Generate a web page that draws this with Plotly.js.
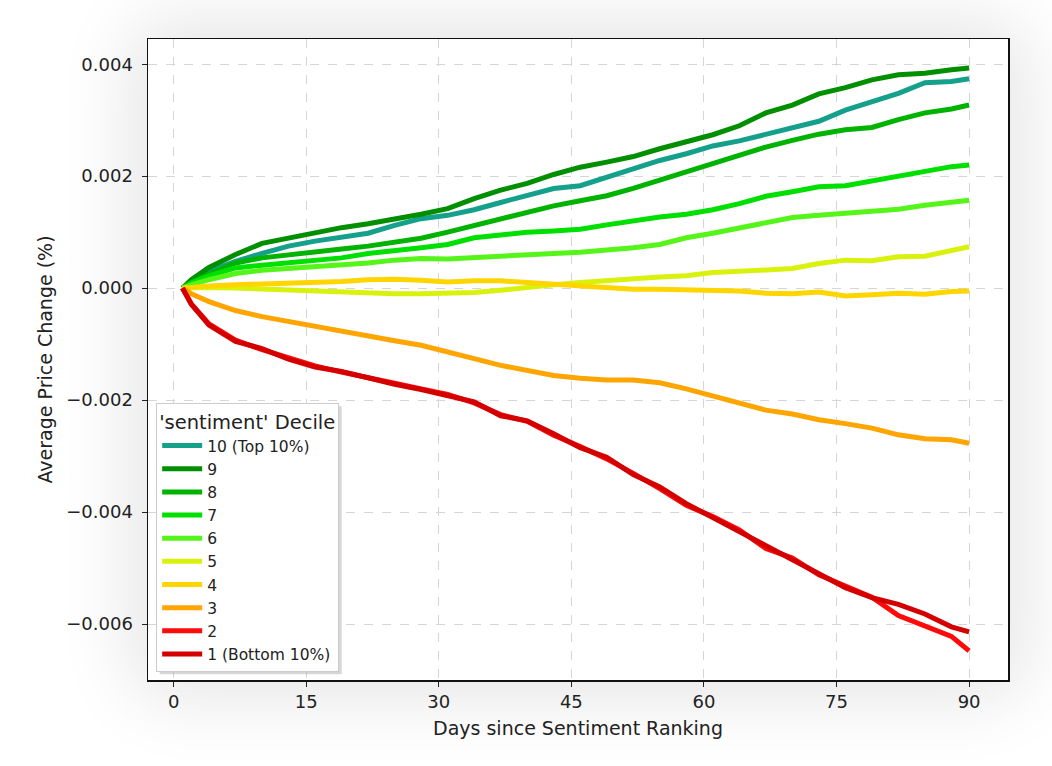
<!DOCTYPE html>
<html>
<head>
<meta charset="utf-8">
<script src="https://cdn.plot.ly/plotly-3.0.1.min.js"></script>
<style>
  html, body { margin: 0; padding: 0; background: #ffffff; }
  #wrap { position: relative; width: 1052px; height: 766px; overflow: hidden; background: #ffffff; }
  #shadow { position: absolute; left: 148px; top: 39px; width: 860px; height: 641px;
            background: #ffffff; box-shadow: 0 0 70px 22px rgba(0,0,0,0.095); border-radius: 24px; }
  #chart { position: absolute; left: 0; top: 0; width: 1052px; height: 766px; }
</style>
</head>
<body>
<div id="wrap">
  <div id="shadow"></div>
  <div id="chart"></div>
</div>
<script>
const days = [1,2,4,7,10,13,16,19,22,25,28,31,34,37,40,43,46,49,52,55,58,61,64,67,70,73,76,79,82,85,88,90];

const s10 = [0,0.00012,0.0003,0.00048,0.00062,0.00075,0.00084,0.0009,0.00098,0.00112,0.00124,0.0013,0.0014,0.00153,0.00166,0.00178,0.00183,0.00198,0.00214,0.00228,0.0024,0.00254,0.00263,0.00275,0.00287,0.00298,0.00318,0.00334,0.00348,0.00367,0.00369,0.00374];
const s9 = [0,0.00015,0.00037,0.0006,0.0008,0.0009,0.001,0.00108,0.00115,0.00123,0.00132,0.00142,0.0016,0.00175,0.00187,0.00203,0.00216,0.00225,0.00235,0.00249,0.00262,0.00274,0.0029,0.00313,0.00327,0.00347,0.00358,0.00372,0.00381,0.00384,0.0039,0.00393];
const s8 = [0,0.0001,0.00025,0.00045,0.00054,0.0006,0.00064,0.0007,0.00075,0.00083,0.00089,0.001,0.00112,0.00125,0.00137,0.00147,0.00156,0.00165,0.00178,0.00193,0.00208,0.00222,0.00238,0.00252,0.00264,0.00275,0.00283,0.00287,0.00301,0.00313,0.0032,0.00327];
const s7 = [0,0.00009,0.00022,0.00036,0.00041,0.00045,0.00048,0.00054,0.00062,0.00066,0.00072,0.00078,0.0009,0.00095,0.001,0.00102,0.00105,0.00113,0.00121,0.00127,0.00132,0.0014,0.00151,0.00164,0.00172,0.00181,0.00183,0.00192,0.00201,0.0021,0.00217,0.0022];
const s6 = [0,0.00006,0.00015,0.00026,0.00032,0.00035,0.00037,0.00041,0.00045,0.0005,0.00053,0.00052,0.00055,0.00058,0.00061,0.00062,0.00064,0.00067,0.00072,0.00078,0.0009,0.00098,0.00108,0.00118,0.00126,0.0013,0.00134,0.00137,0.00141,0.00148,0.00153,0.00157];
const s5 = [0,0.00001,0.00001,0,-0.00002,-0.00004,-0.00005,-0.00007,-0.00009,-0.0001,-0.0001,-0.0001,-0.00008,-0.00004,0.00002,0.00006,0.0001,0.00014,0.00018,0.0002,0.00022,0.00028,0.0003,0.00033,0.00035,0.00044,0.0005,0.00049,0.00056,0.00057,0.00066,0.00074];
const s4 = [0,0.00002,0.00004,0.00006,0.00007,0.00009,0.0001,0.00012,0.00015,0.00016,0.00014,0.00011,0.00013,0.00013,0.0001,0.00007,0.00005,0.00002,-0.00002,-0.00002,-0.00003,-0.00004,-0.00005,-0.00009,-0.0001,-0.00007,-0.00014,-0.00012,-0.00009,-0.00011,-0.00006,-0.00005];
const s3 = [0,-0.0001,-0.00024,-0.0004,-0.00051,-0.0006,-0.00068,-0.00077,-0.00087,-0.00094,-0.00102,-0.00113,-0.00126,-0.00138,-0.00148,-0.00156,-0.00161,-0.00164,-0.00164,-0.00169,-0.0018,-0.00192,-0.00205,-0.00218,-0.00225,-0.00235,-0.00242,-0.0025,-0.00262,-0.00269,-0.00271,-0.00277];
const s2 = [0,-0.00028,-0.00064,-0.00093,-0.0011,-0.00125,-0.00139,-0.0015,-0.00161,-0.0017,-0.0018,-0.0019,-0.00205,-0.00226,-0.00238,-0.00263,-0.00283,-0.00305,-0.00331,-0.00358,-0.00388,-0.00408,-0.00432,-0.00465,-0.00482,-0.00512,-0.00532,-0.00552,-0.00585,-0.00604,-0.00622,-0.00648];
const s1 = [0,-0.00029,-0.00066,-0.00095,-0.00108,-0.00127,-0.00141,-0.00149,-0.0016,-0.00172,-0.00181,-0.00191,-0.00203,-0.00228,-0.00237,-0.0026,-0.00285,-0.00302,-0.00333,-0.00355,-0.00385,-0.0041,-0.00435,-0.00462,-0.00485,-0.0051,-0.00535,-0.00553,-0.00565,-0.00582,-0.00605,-0.00614];

const seriesNames = ['10 (Top 10%)','9','8','7','6','5','4','3','2','1 (Bottom 10%)'];
const seriesValues = [s10,s9,s8,s7,s6,s5,s4,s3,s2,s1];
const seriesColors = ['#14a08a','#008f00','#00b300','#00e000','#55f51a','#d9f20d','#ffd500','#ffa500','#ff0a0a','#d40000'];

const xTicks = [0,15,30,45,60,75,90];
const yTicks = [-0.006,-0.004,-0.002,0,0.002,0.004];
const yTickText = ['\u22120.006','\u22120.004','\u22120.002','0.000','0.002','0.004'];

const traces = seriesNames.map((n,i) => ({
  x: days, y: seriesValues[i], name: n, type: 'scatter', mode: 'lines',
  line: { color: seriesColors[i], width: 5 }
}));

const FONT = 'DejaVu Sans, sans-serif';
const layout = {
  width: 1052, height: 766,
  margin: { l: 148, r: 44, t: 39, b: 86 },
  paper_bgcolor: 'rgba(0,0,0,0)', plot_bgcolor: '#ffffff',
  font: { family: FONT, color: '#222222' },
  showlegend: true,
  xaxis: {
    range: [-2.9, 94.4], tickvals: xTicks, ticktext: xTicks.map(String),
    ticks: 'outside', ticklen: 5, tickwidth: 1, tickcolor: '#222',
    tickfont: { size: 18, family: FONT, color: '#222' },
    showgrid: true, gridcolor: '#d6d6d6', griddash: 'dash', gridwidth: 1,
    zeroline: false, showline: true, linecolor: '#111', linewidth: 1.5, mirror: true,
    title: { text: 'Days since Sentiment Ranking', font: { size: 19, family: FONT, color: '#222' }, standoff: 10 },
    automargin: false
  },
  yaxis: {
    range: [-0.0070, 0.00445], tickvals: yTicks, ticktext: yTickText,
    ticks: 'outside', ticklen: 5, tickwidth: 1, tickcolor: '#222',
    tickfont: { size: 18, family: FONT, color: '#222' },
    ticklabelstandoff: 5,
    showgrid: true, gridcolor: '#d6d6d6', griddash: 'dash', gridwidth: 1,
    zeroline: false, showline: true, linecolor: '#111', linewidth: 1.5, mirror: true,
    title: { text: 'Average Price Change (%)', font: { size: 19, family: FONT, color: '#222' }, standoff: 8 },
    automargin: false
  },
  legend: {
    x: 0.0095, y: 0.013, xanchor: 'left', yanchor: 'bottom',
    bgcolor: '#ffffff', bordercolor: '#cccccc', borderwidth: 1,
    font: { size: 15.5, family: FONT, color: '#222' },
    title: { text: "'sentiment' Decile", font: { size: 19.5, family: FONT, color: '#222' } },
    itemwidth: 40, traceorder: 'normal'
  }
};

Plotly.newPlot('chart', traces, layout, { displayModeBar: false, staticPlot: true }).then(gd => {
  // soft legend drop shadow, measured from the rendered legend box
  const bg = gd.querySelector('.legend .bg');
  if (!bg) return;
  const r = bg.getBoundingClientRect();
  const c = gd.getBoundingClientRect();
  const fl = gd._fullLayout;
  const W = fl._size.w, H = fl._size.h, L = fl._size.l, T = fl._size.t;
  const off = 3;
  const x0 = (r.left - c.left - L + off) / W, x1 = (r.right - c.left - L + off) / W;
  const y1 = 1 - (r.top - c.top - T + off) / H, y0 = 1 - (r.bottom - c.top - T + off) / H;
  Plotly.relayout(gd, { shapes: [{
    type: 'rect', xref: 'paper', yref: 'paper', x0: x0, x1: x1, y0: y0, y1: y1,
    fillcolor: 'rgba(120,120,120,0.3)', line: { width: 0 }, layer: 'above'
  }]});
});
</script>
</body>
</html>
